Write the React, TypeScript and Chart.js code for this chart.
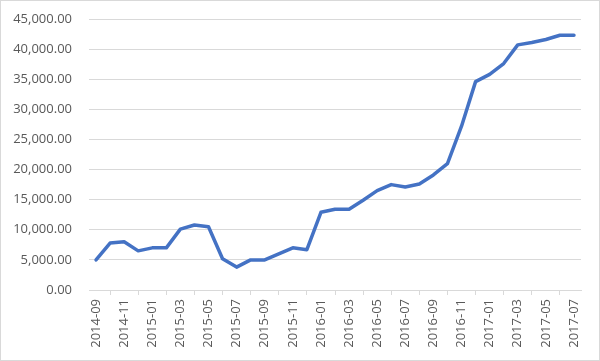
import React, { useEffect, useRef } from "react";
import { Chart, registerables } from "chart.js";

Chart.register(...registerables);

const months = [
  "2014-09", "2014-10", "2014-11", "2014-12",
  "2015-01", "2015-02", "2015-03", "2015-04", "2015-05", "2015-06",
  "2015-07", "2015-08", "2015-09", "2015-10", "2015-11", "2015-12",
  "2016-01", "2016-02", "2016-03", "2016-04", "2016-05", "2016-06",
  "2016-07", "2016-08", "2016-09", "2016-10", "2016-11", "2016-12",
  "2017-01", "2017-02", "2017-03", "2017-04", "2017-05", "2017-06", "2017-07",
];

const values = [
  5000, 7800, 8000, 6500,
  7000, 7000, 10100, 10800, 10500, 5200,
  3800, 5000, 5000, 6000, 7000, 6700,
  12900, 13400, 13400, 14900, 16500, 17500,
  17100, 17600, 19100, 21000, 27200, 34600,
  35800, 37600, 40700, 41100, 41600, 42300, 42300,
];

const yMin = 0;
const yMax = 45000;
const yStep = 5000;

const frame = {
  id: "frame",
  beforeDraw(chart: any) {
    const { ctx, width, height } = chart;
    ctx.save();
    ctx.fillStyle = "#ffffff";
    ctx.fillRect(0, 0, width, height);
    ctx.restore();
  },
  afterDraw(chart: any) {
    const { ctx, width, height } = chart;
    ctx.save();
    ctx.strokeStyle = "#d9d9d9";
    ctx.lineWidth = 1;
    ctx.strokeRect(0.5, 0.5, width - 1, height - 1);
    ctx.restore();
  },
};

export default function App() {
  const ref = useRef<HTMLCanvasElement>(null);
  useEffect(() => {
    if (!ref.current) return;
    const chart = new Chart(ref.current, {
      type: "line",
      data: {
        labels: months,
        datasets: [
          {
            data: values,
            borderColor: "#4472C4",
            borderWidth: 3.5,
            pointRadius: 0,
            fill: false,
            tension: 0,
            borderJoinStyle: "round",
            borderCapStyle: "round",
          },
        ],
      },
      options: {
        animation: false,
        responsive: false,
        maintainAspectRatio: false,
        layout: { padding: { left: 0, right: 19, top: 19, bottom: 0 } },
        plugins: { legend: { display: false }, tooltip: { enabled: false } },
        scales: {
          x: {
            type: "category",
            offset: true,
            afterFit: (s: any) => {
              s.height = 71;
              s.paddingLeft = 0;
              s.paddingRight = 0;
            },
            grid: {
              offset: true,
              drawOnChartArea: false,
              drawTicks: true,
              tickLength: 5,
              color: "#d9d9d9",
            },
            border: { display: true, color: "#d9d9d9", width: 1 },
            ticks: {
              autoSkip: false,
              maxRotation: 90,
              minRotation: 90,
              padding: 4,
              color: "#595959",
              font: { family: "'Open Sans'", size: 13 },
              callback: (_v: any, i: number) => (i % 2 === 0 ? months[i] : null),
            },
          },
          y: {
            min: yMin,
            max: yMax,
            afterFit: (s: any) => {
              s.width = 89;
              s.paddingTop = 0;
              s.paddingBottom = 0;
            },
            grid: { color: "#d9d9d9", drawTicks: false, lineWidth: 1 },
            border: { display: false },
            ticks: {
              stepSize: yStep,
              padding: 17,
              color: "#595959",
              font: { family: "'Open Sans'", size: 13 },
              callback: (v: any) =>
                Number(v).toLocaleString("en-US", { minimumFractionDigits: 2, maximumFractionDigits: 2 }),
            },
          },
        },
      },
      plugins: [frame],
    });
    return () => chart.destroy();
  }, []);
  return (
    <div style={{ position: "absolute", left: 0, top: 0, width: 600, height: 361 }}>
      <canvas ref={ref} width={600} height={361} style={{ width: 600, height: 361, display: "block" }} />
    </div>
  );
}
